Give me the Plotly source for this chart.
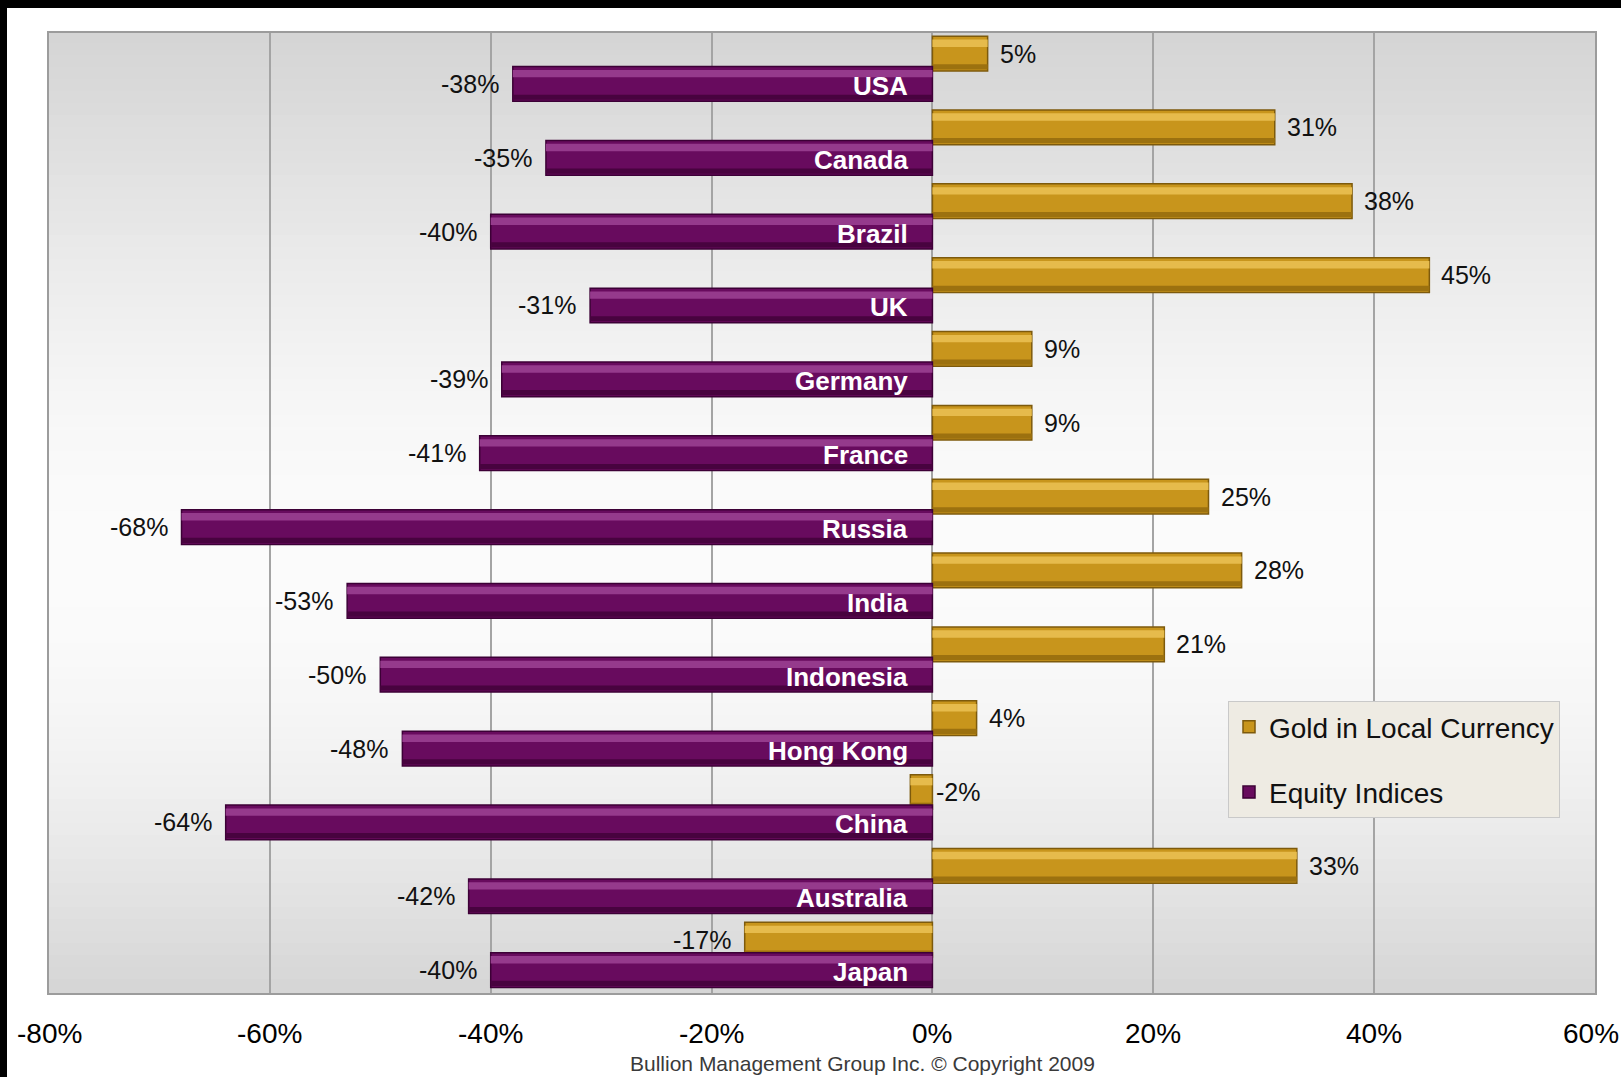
import math
import plotly.graph_objects as go

# ---------------- data ----------------
countries = ["USA", "Canada", "Brazil", "UK", "Germany", "France", "Russia",
             "India", "Indonesia", "Hong Kong", "China", "Australia", "Japan"]
gold_local = [5, 31, 38, 45, 9, 9, 25, 28, 21, 4, -2, 33, -17]
equity_idx = [-38, -35, -40, -31, -39, -41, -68, -53, -50, -48, -64, -42, -40]
x_ticks = [-80, -60, -40, -20, 0, 20, 40, 60]
x_tick_labels = ["-80%", "-60%", "-40%", "-20%", "0%", "20%", "40%", "60%"]
series_names = ["Gold in Local Currency", "Equity Indices"]
footer = "Bullion Management Group Inc. \u00a9 Copyright 2009"

# ---------------- layout constants ----------------
W, H = 1621, 1077
ML, MR, MT, MB = 49, 26, 33, 84
PW, PH = W - ML - MR, H - MT - MB

GOLD, GOLD_HI, GOLD_DK, GOLD_LN = "#c8951c", "#e6bb4c", "#9c710f", "#7d5a0c"
PURP, PURP_HI, PURP_DK, PURP_LN = "#680b5e", "#953a8c", "#48033f", "#3c0036"

BAR_W = 0.47
GOLD_OFF = -0.457
EQ_OFF = -0.045
GOLD_C = GOLD_OFF + BAR_W / 2
EQ_C = EQ_OFF + BAR_W / 2

VAL_FONT = dict(family="Liberation Sans, Arial, sans-serif", size=25, color="#111111")
CAT_FONT = dict(family="Liberation Sans, Arial, sans-serif", size=26, color="#ffffff")
TICK_FONT = dict(family="Liberation Sans, Arial, sans-serif", size=28, color="#000000")

pos = list(range(len(countries)))

fig = go.Figure()


def add_bevel_bars(values, name, group, off, base_col, hi_col, dk_col, ln_col):
    fig.add_trace(go.Bar(
        y=pos, x=values, orientation="h", name=name,
        width=BAR_W, offset=off, legendgroup=group,
        marker=dict(color=base_col, line=dict(color=ln_col, width=1.5)),
        hoverinfo="skip"))
    fig.add_trace(go.Bar(
        y=pos, x=values, orientation="h", showlegend=False,
        width=0.10, offset=off + 0.045, legendgroup=group,
        marker=dict(color=hi_col, line=dict(width=0)), hoverinfo="skip"))
    fig.add_trace(go.Bar(
        y=pos, x=values, orientation="h", showlegend=False,
        width=0.07, offset=off + BAR_W - 0.09, legendgroup=group,
        marker=dict(color=dk_col, line=dict(width=0)), hoverinfo="skip"))


add_bevel_bars(gold_local, series_names[0], "gold", GOLD_OFF, GOLD, GOLD_HI, GOLD_DK, GOLD_LN)
add_bevel_bars(equity_idx, series_names[1], "eq", EQ_OFF, PURP, PURP_HI, PURP_DK, PURP_LN)

annotations = []
# value labels
for p, v in zip(pos, gold_local):
    if v < -5:
        annotations.append(dict(x=v, y=p + GOLD_C, xref="x", yref="y", text=f"{v}%",
                                xanchor="right", xshift=-12, showarrow=False, font=VAL_FONT))
    else:
        annotations.append(dict(x=max(v, 0), y=p + GOLD_C, xref="x", yref="y", text=f"{v}%",
                                xanchor="left", xshift=10 if v > 0 else 2,
                                showarrow=False, font=VAL_FONT))
for p, v in zip(pos, equity_idx):
    annotations.append(dict(x=v, y=p + EQ_C, xref="x", yref="y", text=f"{v}%",
                            xanchor="right", xshift=-12, showarrow=False, font=VAL_FONT))
# category labels inside purple bars
for p, c in zip(pos, countries):
    annotations.append(dict(x=0, y=p + EQ_C, xref="x", yref="y", text=f"<b>{c}</b>",
                            xanchor="right", xshift=-22, yshift=-2, showarrow=False,
                            font=CAT_FONT))
# x tick labels (drawn as annotations so the last one can hug the page edge)
for tv, tl in zip(x_ticks, x_tick_labels):
    is_last = tv == x_ticks[-1]
    annotations.append(dict(x=tv, y=0, xref="x", yref="paper", text=tl, showarrow=False,
                            xanchor="right" if is_last else "center", yanchor="middle",
                            xshift=26 if is_last else 0, yshift=-(1033 - (MT + PH)),
                            font=TICK_FONT))
# footer
annotations.append(dict(x=(862 - ML) / PW, y=(MT + PH - 1063) / PH, xref="paper", yref="paper",
                        text=footer, showarrow=False, xanchor="center", yanchor="middle",
                        font=dict(family="Liberation Sans, Arial, sans-serif",
                                  size=21, color="#3a3a3a")))

shapes = []
# vertical gradient of plot background
N = 80
for i in range(N):
    t = (i + 0.5) / N
    v = int(round(213 + 38 * math.sin(math.pi * t ** 1.16)))
    col = f"rgb({v},{v},{v})"
    shapes.append(dict(type="rect", xref="paper", yref="paper", layer="below",
                       x0=0, x1=1, y0=1 - (i + 1) / N, y1=1 - i / N + 0.002,
                       fillcolor=col, line=dict(width=0)))
# black frame bands of the original screenshot
shapes.append(dict(type="rect", xref="paper", yref="paper", layer="above",
                   x0=-ML / PW, x1=(7 - ML) / PW, y0=-(MB + 5) / PH, y1=(PH + MT + 5) / PH,
                   fillcolor="black", line=dict(width=0)))
shapes.append(dict(type="rect", xref="paper", yref="paper", layer="above",
                   x0=-ML / PW - 0.01, x1=1 + (MR + 5) / PW, y0=(PH + MT - 8) / PH, y1=(PH + MT + 5) / PH,
                   fillcolor="black", line=dict(width=0)))

fig.update_layout(
    width=W, height=H,
    margin=dict(l=ML, r=MR, t=MT, b=MB, pad=0, autoexpand=False),
    paper_bgcolor="white", plot_bgcolor="#e0e0e0",
    barmode="overlay",
    showlegend=True,
    legend=dict(x=(1228 - ML) / PW, y=(MT + PH - 701) / PH, xanchor="left", yanchor="top",
                bgcolor="#eeebe3", bordercolor="#c9c9c9", borderwidth=1,
                traceorder="grouped", tracegroupgap=26,
                font=dict(family="Liberation Sans, Arial, sans-serif", size=28, color="#111111"),
                itemwidth=30),
    annotations=annotations,
    shapes=shapes,
    xaxis=dict(range=[x_ticks[0], x_ticks[-1]], tickvals=x_ticks, showticklabels=False,
               showgrid=True, gridcolor="#a4a4a4", gridwidth=1.5, zeroline=False,
               showline=True, mirror=True, linecolor="#9c9c9c", linewidth=2,
               ticks="", automargin=False),
    yaxis=dict(range=[len(countries) - 0.5, -0.5], showticklabels=False, showgrid=False,
               zeroline=False, showline=True, mirror=True, linecolor="#9c9c9c", linewidth=2,
               ticks="", automargin=False),
)

fig.write_html("out.html")
